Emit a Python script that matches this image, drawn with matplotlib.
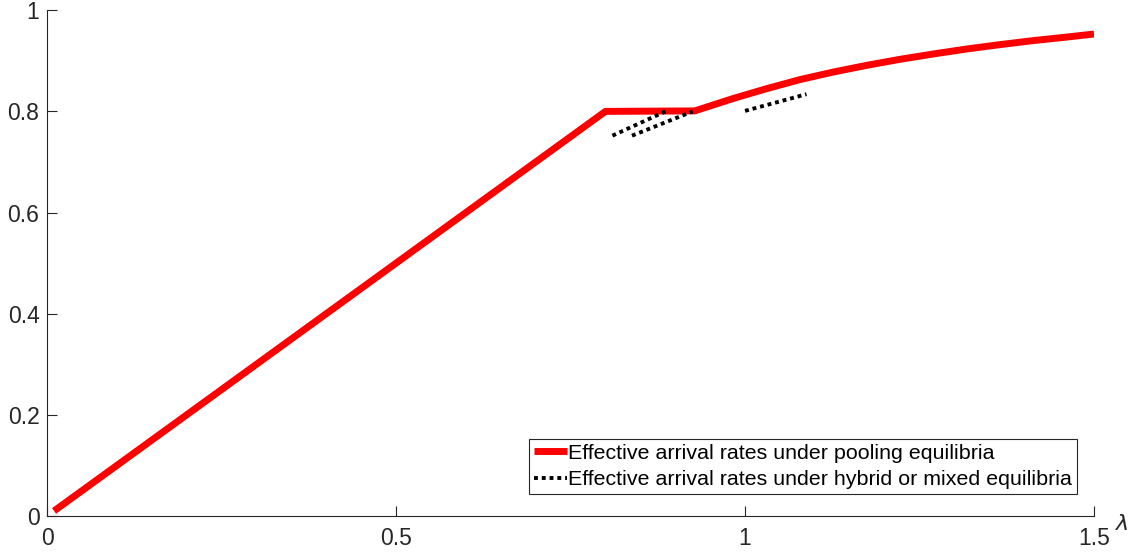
import matplotlib
matplotlib.use("Agg")
import matplotlib.pyplot as plt

# pooling equilibria (red)
pool_x = [0.01, 0.80, 0.928, 0.983, 1.031, 1.079, 1.127, 1.174, 1.222,
          1.270, 1.318, 1.365, 1.413, 1.461, 1.50]
pool_y = [0.01, 0.80, 0.801, 0.8255, 0.845, 0.863, 0.878, 0.891, 0.903,
          0.9136, 0.9235, 0.932, 0.940, 0.947, 0.953]

# hybrid / mixed equilibria (black dotted), three short pieces
mix1_x = [0.81, 0.886]
mix1_y = [0.752, 0.800]
mix2_x = [0.838, 0.925]
mix2_y = [0.752, 0.800]
mix3_x = [1.0, 1.088]
mix3_y = [0.801, 0.834]

xticks = [0, 0.5, 1, 1.5]
xticklabels = ["0", "0.5", "1", "1.5"]
yticks = [0, 0.2, 0.4, 0.6, 0.8, 1]
yticklabels = ["0", "0.2", "0.4", "0.6", "0.8", "1"]

plt.rcParams['font.family'] = ['Liberation Sans', 'DejaVu Sans']
ink = '#262626'

fig = plt.figure(figsize=(11.48, 5.57), dpi=100)
ax = fig.add_axes([0.041, 0.0736, 0.912, 0.908])

ax.plot(pool_x, pool_y, color='red', lw=5, solid_capstyle='butt',
        solid_joinstyle='round',
        label='Effective arrival rates under pooling equilibria')
ax.plot(mix1_x, mix1_y, color='black', lw=2.8, linestyle=(0, (1, 1)),
        label='Effective arrival rates under hybrid or mixed equilibria')
ax.plot(mix2_x, mix2_y, color='black', lw=2.8, linestyle=(0, (1, 1)))
ax.plot(mix3_x, mix3_y, color='black', lw=2.8, linestyle=(0, (1, 1)))

ax.set_xlim(0, 1.5)
ax.set_ylim(0, 1)
ax.set_xticks(xticks)
ax.set_xticklabels(xticklabels)
ax.set_yticks(yticks)
ax.set_yticklabels(yticklabels)

for s in ['top', 'right']:
    ax.spines[s].set_visible(False)
for s in ['left', 'bottom']:
    ax.spines[s].set_color(ink)
    ax.spines[s].set_linewidth(0.8)
ax.tick_params(direction='in', length=7, width=0.8, colors=ink,
               labelsize=16.5)
ax.tick_params(axis='x', pad=8)
ax.tick_params(axis='y', pad=5.5)

ax.text(1.027, -0.016, r'$\lambda$', transform=ax.transAxes, fontsize=16,
        color=ink, ha='center', va='center')

leg = ax.legend(loc='lower right', bbox_to_anchor=(0.9837, 0.0435),
                fontsize=15.4, frameon=True, fancybox=False, framealpha=1,
                edgecolor=ink, handlelength=1.55, handletextpad=0.05,
                borderpad=0.22, labelspacing=0.35, borderaxespad=0)
leg.get_frame().set_linewidth(0.8)

fig.savefig('out.png', dpi=100)
